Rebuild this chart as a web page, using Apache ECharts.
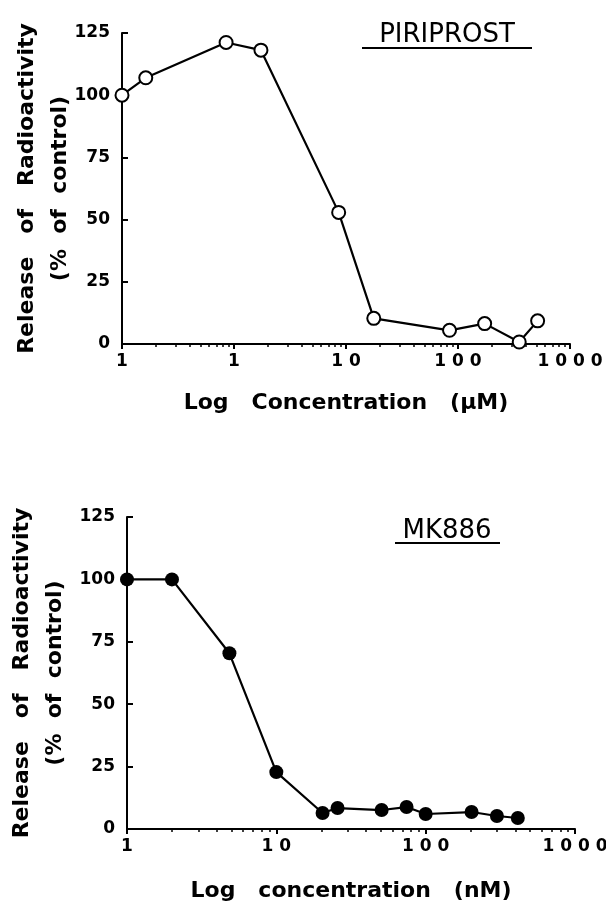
<!DOCTYPE html>
<html lang="en">
    <head>
        <meta charset="utf-8" />
        <title>Release of radioactivity - Piriprost / MK886</title>
        <style type="text/css">
            html, body { margin: 0; padding: 0; background: #fff; }
            #charts { width: 606px; height: 902px; }
        </style>
    </head>
    <body>
        <!--chart container-->
        <div id="charts"></div>

        <script src="https://cdn.jsdelivr.net/npm/echarts@6.0.0/dist/echarts.min.js"></script>
        <script>
            //----------data----------//
            const piriprostConc = [0.1, 0.163, 0.85, 1.74, 8.6, 17.7, 84, 173, 352, 514];
            const piriprostRelease = [100, 107, 121.2, 118.1, 52.9, 10.3, 5.5, 8.2, 0.8, 9.3];

            const mk886Conc = [1, 2, 4.85, 10, 20.4, 25.7, 50.7, 74.5, 100, 203, 300, 414];
            const mk886Release = [100, 100, 70.4, 22.8, 6.4, 8.4, 7.6, 8.8, 6, 6.8, 5.2, 4.4];

            const topDecades = [0.1, 1, 10, 100, 1000];
            const topTickLabels = ['1', '1', '1 0', '1 0 0', '1 0 0 0'];
            const bottomDecades = [1, 10, 100, 1000];
            const bottomTickLabels = ['1', '1 0', '1 0 0', '1 0 0 0'];

            const yMax = 125;
            const yStep = 25;

            const BOLD = '"DejaVu Sans"';

            // minor ticks 2..9 inside every decade
            const minorValues = (decades) => {
                let out = [];
                for (let i = 0; i < decades.length - 1; i++) {
                    for (let k = 2; k < 10; k++) {
                        out.push(decades[i] * k);
                    }
                }
                return out;
            };

            const labelFor = (decades, labels) => (val) => {
                for (let i = 0; i < decades.length; i++) {
                    if (Math.abs(Math.log10(val) - Math.log10(decades[i])) < 0.01) {
                        return labels[i];
                    }
                }
                return '';
            };

            const majorXAxis = (grid, decades, labels, title, gap) => ({
                type: 'log',
                logBase: 10,
                gridIndex: grid,
                position: 'bottom',
                min: decades[0],
                max: decades[decades.length - 1],
                axisLine: { show: true, lineStyle: { color: '#000', width: 2 } },
                axisTick: { show: true, length: 5, customValues: decades, lineStyle: { color: '#000', width: 2 } },
                axisLabel: {
                    customValues: decades,
                    formatter: labelFor(decades, labels),
                    color: '#000', fontFamily: BOLD, fontWeight: 'bold', fontSize: 17, margin: 9
                },
                splitLine: { show: false },
                name: title,
                nameLocation: 'middle',
                nameGap: gap,
                nameTextStyle: { color: '#000', fontFamily: BOLD, fontWeight: 'bold', fontSize: 22 }
            });

            const minorXAxis = (grid, decades) => ({
                type: 'log',
                logBase: 10,
                gridIndex: grid,
                position: 'bottom',
                min: decades[0],
                max: decades[decades.length - 1],
                axisLine: { show: false },
                axisTick: { show: true, length: 3, customValues: minorValues(decades), lineStyle: { color: '#000', width: 1.5 } },
                axisLabel: { show: false },
                splitLine: { show: false }
            });

            const yAxisFor = (grid, margin, gap) => ({
                type: 'value',
                gridIndex: grid,
                min: 0,
                max: yMax,
                interval: yStep,
                axisLine: { show: true, lineStyle: { color: '#000', width: 2 } },
                axisTick: { show: true, inside: true, length: 6, lineStyle: { color: '#000', width: 2 } },
                axisLabel: { color: '#000', fontFamily: BOLD, fontWeight: 'bold', fontSize: 17, margin: margin },
                splitLine: { show: false },
                name: 'Release   of   Radioactivity\n(%  of  control)',
                nameLocation: 'middle',
                nameRotate: 90,
                nameGap: gap,
                nameMoveOverlap: false,
                nameTextStyle: { color: '#000', fontFamily: BOLD, fontWeight: 'bold', fontSize: 22, lineHeight: 33 }
            });

            let chart = echarts.init(document.querySelector('#charts'), null, {
                width: 606,
                height: 902
            });

            const option = {
                animation: false,
                backgroundColor: '#fff',
                grid: [
                    { left: 122, right: 36, top: 33, height: 311, outerBoundsMode: 'none', containLabel: false },
                    { left: 127, right: 31, top: 517, height: 312, outerBoundsMode: 'none', containLabel: false }
                ],
                xAxis: [
                    majorXAxis(0, topDecades, topTickLabels, 'Log   Concentration   (\u03bcM)', 48),
                    minorXAxis(0, topDecades),
                    majorXAxis(1, bottomDecades, bottomTickLabels, 'Log   concentration   (nM)', 51),
                    minorXAxis(1, bottomDecades)
                ],
                yAxis: [yAxisFor(0, 12, 45), yAxisFor(1, 12, 55)],
                graphic: [
                    {
                        type: 'text',
                        style: {
                            x: 447, y: 35, text: 'PIRIPROST', align: 'center', verticalAlign: 'middle',
                            fill: '#000', font: '26px "DejaVu Sans"'
                        }
                    },
                    { type: 'line', shape: { x1: 362, y1: 48, x2: 532, y2: 48 }, style: { stroke: '#000', lineWidth: 2 } },
                    {
                        type: 'text',
                        style: {
                            x: 447, y: 531, text: 'MK886', align: 'center', verticalAlign: 'middle',
                            fill: '#000', font: '26px "DejaVu Sans"'
                        }
                    },
                    { type: 'line', shape: { x1: 395, y1: 543, x2: 500, y2: 543 }, style: { stroke: '#000', lineWidth: 2 } }
                ],
                series: [
                    {
                        name: 'Piriprost',
                        type: 'line',
                        xAxisIndex: 0,
                        yAxisIndex: 0,
                        data: piriprostConc.map((c, i) => [c, piriprostRelease[i]]),
                        symbol: 'circle',
                        symbolSize: 13,
                        clip: false,
                        itemStyle: { color: '#fff', borderColor: '#000', borderWidth: 2 },
                        lineStyle: { color: '#000', width: 2.2 }
                    },
                    {
                        name: 'MK886',
                        type: 'line',
                        xAxisIndex: 2,
                        yAxisIndex: 1,
                        data: mk886Conc.map((c, i) => [c, mk886Release[i]]),
                        symbol: 'circle',
                        symbolSize: 14,
                        clip: false,
                        itemStyle: { color: '#000', borderColor: '#000', borderWidth: 0 },
                        lineStyle: { color: '#000', width: 2.2 }
                    }
                ]
            };

            chart.setOption(option);
        </script>
    </body>
</html>
